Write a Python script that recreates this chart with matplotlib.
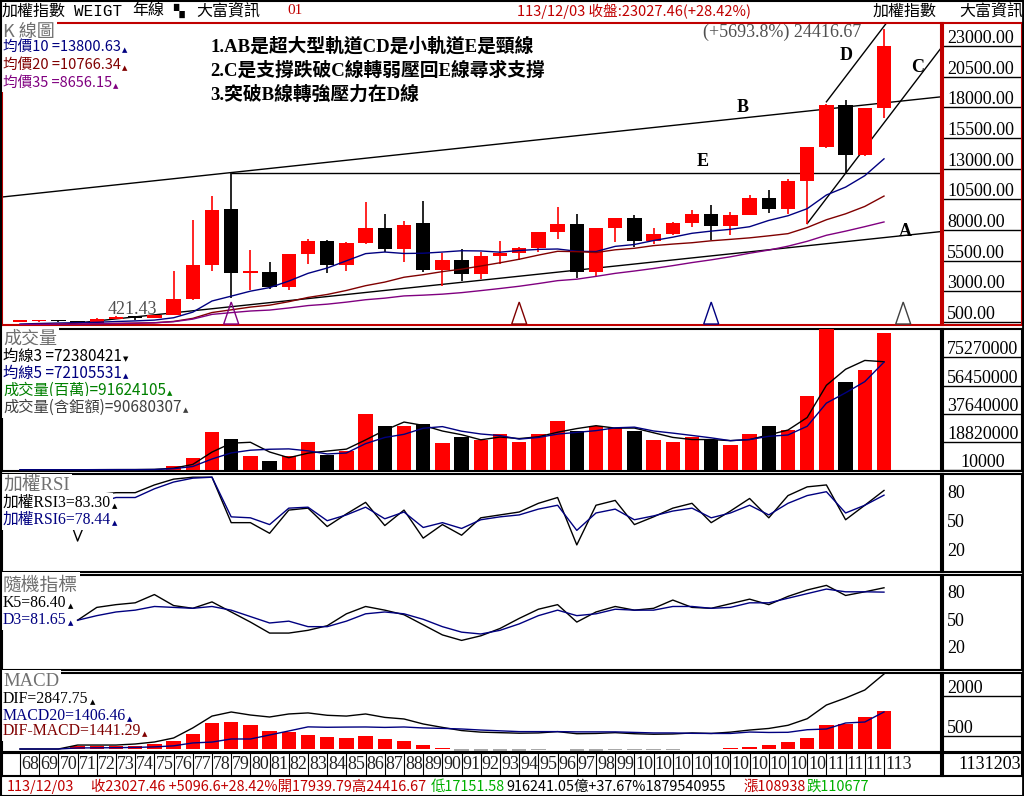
import matplotlib.pyplot as plt
import numpy as np
import pandas as pd
from matplotlib.patches import Polygon

plt.rcParams['font.family'] = ['Noto Sans CJK TC', 'DejaVu Sans']
SERIF = ['Liberation Serif', 'Noto Sans CJK TC']

W, H = 1024, 796
nan = np.nan

# 民國年 68 ~ 113, 年K
years = np.arange(68, 114)
opens = [480, 550, 568, 551, 443, 761, 839, 835, 1039, 2339, 5119, 9700, 4530, 4600, 3377, 6070,
         7124, 5173, 6933, 8187, 6418, 8550, 4739, 5551, 4452, 5890, 6139, 6548, 7823, 8506, 4591,
         8188, 8972, 7072, 7699, 8611, 9307, 8338, 9253, 10642, 9727, 11997, 14732, 18218, 14137,
         17939.79]
highs = [580, 590, 650, 560, 800, 968, 850, 1040, 4673, 8813, 10773, 12682, 6365, 5391, 6070, 7228,
         7180, 6982, 10256, 9337, 8710, 10393, 6104, 6484, 6182, 7135, 6575, 7823, 9859, 9309, 8188,
         8990, 9220, 8170, 8623, 9593, 10014, 9430, 10882, 11270, 12125, 14760, 18291, 18619, 17945,
         24416.67]
lows = [470, 500, 510, 421.43, 440, 760, 636, 835, 1039, 2298, 4645, 2485, 3142, 3200, 3098, 5194,
        4474, 4672, 6820, 6219, 5422, 4555, 3411, 3850, 4044, 5255, 5565, 6232, 7306, 4089, 4164,
        7032, 6609, 6857, 7617, 8230, 7203, 7627, 9221, 9400, 9319, 8523, 14720, 12629, 14070,
        17151.58]
closes = [550, 568, 551, 443, 761, 839, 835, 1039, 2339, 5119, 9624, 4530, 4600, 3377, 6070, 7124,
          5173, 6933, 8187, 6418, 8448, 4739, 5551, 4452, 5890, 6139, 6548, 7823, 8506, 4591, 8188,
          8972, 7072, 7699, 8611, 9307, 8338, 9253, 10642, 9727, 11997, 14732, 18218, 14137, 17930,
          23027.46]
# 民國56~67 年收盤, 只用來讓均價線暖身
warmup_close = [118, 111, 109, 125, 136, 228, 411, 190, 350, 372, 426, 541]

# 成交量 (百萬)
volume = [170000, 160000, 210000, 140000, 360000, 320000, 200000, 680000, 2670000, 7870000,
          25410000, 20500000, 9680000, 5920000, 9060000, 18810000, 10150000, 12910000, 37240000,
          29620000, 29290000, 30530000, 18350000, 21870000, 20330000, 23880000, 18820000, 23900000,
          33040000, 26120000, 29680000, 28220000, 26200000, 20240000, 18940000, 21900000, 20190000,
          16770000, 24090000, 29610000, 26460000, 49200000, 94200000, 58600000, 66900000, 91624105]

rsi3 = [50, 60, 85, 31, 79, 81, 81, 89, 95, 97, 97, 50, 50, 39, 63, 65, 46, 59, 71, 47, 63, 34, 48,
        37, 55, 58, 61, 70, 76, 27, 68, 73, 48, 56, 65, 70, 50, 62, 75, 55, 78, 87, 89, 53, 68, 83.30]
rsi6 = [50, 55, 70, 45, 70, 76, 76, 85, 92, 96, 97, 56, 55, 48, 65, 66, 52, 58, 66, 54, 61, 45, 50,
        44, 53, 56, 58, 64, 68, 42, 60, 64, 53, 57, 62, 65, 55, 60, 68, 58, 70, 78, 82, 60, 68, 78.44]
k5 = [nan, nan, nan, 51, 65, 68, 70, 79, 67, 64, 71, 60, 49, 37, 37, 40, 45, 58, 66, 62, 57, 46, 35,
      29, 34, 42, 53, 63, 68, 49, 60, 66, 62, 64, 73, 65, 64, 69, 74, 68, 77, 84, 89, 78, 82, 86.40]
d3 = [nan, nan, nan, 51, 56, 60, 62, 66, 65, 64, 66, 62, 55, 48, 50, 44, 44, 50, 58, 60, 58, 52, 44,
      38, 36, 40, 47, 56, 62, 56, 58, 63, 62, 62, 66, 66, 64, 65, 70, 70, 75, 80, 85, 82, 82, 81.65]
dif = [0, 0, 0, 150, 150, 150, 190, 266, 418, 800, 1250, 1405, 1290, 1215, 1330, 1370, 1280, 1250,
       1330, 1200, 1140, 950, 820, 700, 640, 620, 600, 610, 660, 580, 590, 620, 580, 560, 570, 610,
       590, 640, 720, 780, 900, 1150, 1670, 1936, 2240, 2847.75]
macd20 = [0, 0, 0, 40, 45, 50, 60, 80, 120, 230, 263, 380, 380, 532, 685, 840, 825, 832, 836, 820,
          836, 798, 782, 760, 720, 690, 660, 660, 660, 650, 650, 650, 630, 610, 610, 595, 590, 590,
          644, 628, 634, 732, 759, 987, 1025, 1406.46]

cycle_years = [79, 94, 104, 114]
cycle_colors = ['#800080', '#800000', '#000080', '#404040']

# 手畫趨勢線 (年, 指數)
line_A = [(71, 421.43), (113, 7380)]
line_B = [(79, 12682), (113, 18360)]
line_E = (79, 12682)
line_C = [(109, 8523), (111, 12629)]
line_D = (110, 18450)

k_ticks = [23000, 20500, 18000, 15500, 13000, 10500, 8000, 5500, 3000, 500]
vol_ticks = [75270000, 56450000, 37640000, 18820000, 10000]
osc_ticks = [80, 50, 20]
macd_ticks = [2000, 500]

fig = plt.figure(figsize=(W / 100, H / 100), dpi=100)
renderer = fig.canvas.get_renderer()


def px_axes(x0, y0, x1, y1, edge='black'):
    ax = fig.add_axes([x0 / W, 1 - y1 / H, (x1 - x0) / W, (y1 - y0) / H])
    ax.set_xticks([])
    ax.set_yticks([])
    for s in ax.spines.values():
        s.set_color(edge)
        s.set_linewidth(1.5)
    return ax


def lim(zero_px, scale, y0, y1, base=0.0):
    return (base + (zero_px - y1) / scale, base + (zero_px - y0) / scale)


def ftext(ax, x, y, s, color='black', size=10, family=None, weight='normal', mark=None, bg=True):
    kw = {'family': family} if family else {}
    t = ax.text(x / W, 1 - y / H, s, transform=fig.transFigure, color=color, fontsize=size,
                va='center', ha='left', zorder=20, fontweight=weight,
                bbox=dict(fc='white', ec='none', pad=1.5) if bg else None, **kw)
    if mark:
        bb = t.get_window_extent(renderer)
        ax.text((bb.x1 + 1) / W, 1 - (y + 3) / H, mark, transform=fig.transFigure, color=color,
                fontsize=5, va='center', ha='left', zorder=21, family='DejaVu Sans')
    return t


XL = (68 + (2 - 20) / 19.2, 68 + (941 - 20) / 19.2)
o, h, l, c = map(np.asarray, (opens, highs, lows, closes))
up = c >= o
cols = np.where(up, '#ff0000', '#000000')

# ---------------- K 線圖 ----------------
RED = '#c00000'
ax_k = px_axes(2, 23, 941, 325, RED)
ax_k.set_xlim(XL)
ax_k.set_ylim(lim(322, 0.012267, 23, 325, 500))

ax_k.vlines(years, l, h, colors=cols, lw=1.2, zorder=3)
body = np.maximum(np.abs(c - o), 150)
ax_k.bar(years, body, bottom=np.minimum(o, c), width=0.76, color=cols, zorder=4)

allc = pd.Series(warmup_close + closes)
for n, colr in [(10, '#000080'), (20, '#800000'), (35, '#800080')]:
    ma = allc.rolling(n, min_periods=1).mean().values[len(warmup_close):]
    ax_k.plot(years, ma, color=colr, lw=1, zorder=5)

ax_k.axline(line_A[0], line_A[1], color='black', lw=1, zorder=2)
ax_k.axline(line_B[0], line_B[1], color='black', lw=1, zorder=2)
ax_k.hlines(line_E[1], line_E[0], XL[1], color='black', lw=1, zorder=2)
slope = (line_C[1][1] - line_C[0][1]) / (line_C[1][0] - line_C[0][0])
ax_k.plot([line_C[0][0], XL[1]], [line_C[0][1], line_C[0][1] + slope * (XL[1] - line_C[0][0])],
          color='black', lw=1, zorder=2)
ax_k.plot([line_D[0], XL[1]], [line_D[1], line_D[1] + slope * (XL[1] - line_D[0])],
          color='black', lw=1, zorder=2)

ylo = ax_k.get_ylim()[0]
for yr, colr in zip(cycle_years, cycle_colors):
    tri = Polygon([(yr - 0.39, ylo + 80), (yr, ylo + 1870), (yr + 0.39, ylo + 80)], closed=True,
                  fill=False, ec=colr, lw=1, zorder=6)
    ax_k.add_patch(tri)

ftext(ax_k, 3, 32, 'K 線圖', '#707070', 13)
ftext(ax_k, 3, 47, '均價10 =13800.63', '#000080', 10.5, mark='▲')
ftext(ax_k, 3, 65, '均價20 =10766.34', '#800000', 10.5, mark='▲')
ftext(ax_k, 3, 83, '均價35 =8656.15', '#800080', 10.5, mark='▲')
ftext(ax_k, 108, 309, '421.43', '#505050', 13, SERIF, bg=False)
ftext(ax_k, 703, 32, '(+5693.8%) 24416.67', '#505050', 13, SERIF, bg=False)
notes = ['1.AB是超大型軌道CD是小軌道E是頸線', '2.C是支撐跌破C線轉弱壓回E線尋求支撐', '3.突破B線轉強壓力在D線']
for i, s in enumerate(notes):
    ftext(ax_k, 210, 46 + i * 24.5, s, 'black', 13.5, SERIF, weight='bold', bg=False)
for s, x, y in [('A', 899, 231), ('B', 737, 107), ('C', 911, 68), ('D', 840, 55), ('E', 697, 162)]:
    ftext(ax_k, x, y, s, 'black', 13, ['Liberation Serif'], weight='bold', bg=False)

ax_kr = px_axes(943, 23, 1022, 325, RED)
ax_kr.set_xlim(0, 1)
ax_kr.set_ylim(ax_k.get_ylim())
for v in k_ticks:
    ax_kr.axhline(v, color='black', lw=1)
    ax_kr.annotate(f'{v:.2f}', (0.05, v), xytext=(0, 3), textcoords='offset pixels', va='baseline',
                   fontsize=13, family=SERIF)

# ---------------- 成交量 ----------------
ax_v = px_axes(2, 329, 941, 471)
ax_v.set_xlim(XL)
ax_v.set_ylim(lim(470, 1.496e-6, 329, 471))
vol = pd.Series(volume, dtype=float)
ax_v.bar(years, vol, width=0.76, color=cols, zorder=3)
ax_v.plot(years, vol.rolling(3, min_periods=1).mean(), color='black', lw=1, zorder=4)
ax_v.plot(years, vol.rolling(5, min_periods=1).mean(), color='#000080', lw=1, zorder=4)
ftext(ax_v, 3, 338, '成交量', '#707070', 13)
ftext(ax_v, 3, 356, '均線3 =72380421', 'black', 11, mark='▼')
ftext(ax_v, 3, 373, '均線5 =72105531', '#000080', 11, mark='▲')
ftext(ax_v, 3, 390, '成交量(百萬)=91624105', '#008000', 11, mark='▲')
ftext(ax_v, 3, 407, '成交量(含鉅額)=90680307', '#404040', 11, mark='▲')

ax_vr = px_axes(943, 329, 1022, 471)
ax_vr.set_xlim(0, 1)
ax_vr.set_ylim(ax_v.get_ylim())
for v in vol_ticks:
    ax_vr.axhline(v, color='black', lw=1)
    x = 0.22 if v < 1e6 else 0.05
    ax_vr.annotate(f'{v}', (x, v), xytext=(0, 3), textcoords='offset pixels', va='baseline',
                   fontsize=13, family=SERIF)

# ---------------- RSI ----------------
ax_r = px_axes(2, 474, 941, 572)
ax_r.set_xlim(XL)
ax_r.set_ylim(lim(571, 0.967, 474, 572))
ax_r.plot(years, rsi3, color='black', lw=1)
ax_r.plot(years, rsi6, color='#000080', lw=1)
ftext(ax_r, 3, 485, '加權RSI', '#707070', 13.5, SERIF)
ftext(ax_r, 3, 503, '加權RSI3=83.30', 'black', 11.3, SERIF, mark='▲')
ftext(ax_r, 3, 520, '加權RSI6=78.44', '#000080', 11.3, SERIF, mark='▲')

# ---------------- KD ----------------
ax_d = px_axes(2, 575, 941, 670)
ax_d.set_xlim(XL)
ax_d.set_ylim(lim(667, 0.917, 575, 670))
ax_d.plot(years, k5, color='black', lw=1)
ax_d.plot(years, d3, color='#000080', lw=1)
ftext(ax_d, 3, 585, '隨機指標', '#707070', 13.5)
ftext(ax_d, 3, 603, 'K5=86.40', 'black', 11.3, SERIF, mark='▲')
ftext(ax_d, 3, 620, 'D3=81.65', '#000080', 11.3, SERIF, mark='▲')

for a, box in [(ax_r, (943, 474, 1022, 572)), (ax_d, (943, 575, 1022, 670))]:
    ar = px_axes(*box)
    ar.set_xlim(0, 1)
    ar.set_ylim(a.get_ylim())
    for v in osc_ticks:
        ar.text(0.05, v, str(v), va='center', fontsize=13, family=SERIF)

# ---------------- MACD ----------------
ax_m = px_axes(2, 673, 941, 752)
ax_m.set_xlim(XL)
ax_m.set_ylim(lim(749, 0.02634, 673, 752))
hist = np.asarray(dif) - np.asarray(macd20)
ax_m.bar(years, hist, width=0.76, color=np.where(hist >= 0, '#ff0000', '#a8a8a8'), zorder=3)
ax_m.plot(years, dif, color='black', lw=1, zorder=4)
ax_m.plot(years, macd20, color='#000080', lw=1, zorder=4)
ftext(ax_m, 3, 681, 'MACD', '#707070', 13.5, SERIF)
ftext(ax_m, 3, 699, 'DIF=2847.75', 'black', 11.3, SERIF, mark='▲')
ftext(ax_m, 3, 716, 'MACD20=1406.46', '#000080', 11.3, SERIF, mark='▲')
ftext(ax_m, 3, 731, 'DIF-MACD=1441.29', '#800000', 11.3, SERIF, mark='▲')

ax_mr = px_axes(943, 673, 1022, 752)
ax_mr.set_xlim(0, 1)
ax_mr.set_ylim(ax_m.get_ylim())
for v in macd_ticks:
    ax_mr.axhline(v, color='black', lw=1)
    ax_mr.annotate(str(v), (0.05, v), xytext=(0, 3), textcoords='offset pixels', va='baseline',
                   fontsize=13, family=SERIF)

# ---------------- 年份列 ----------------
ax_x = px_axes(2, 753, 941, 776)
ax_x.set_xlim(XL)
ax_x.set_ylim(0, 1)
ax_x.vlines(years, 0, 1, color='black', lw=0.8)
for yr in years:
    lab = str(yr) if (yr < 100 or yr == years[-1]) else str(yr)[:2]
    ax_x.annotate(lab, (yr, 0.5), xytext=(1, 0), textcoords='offset pixels', va='center',
                  fontsize=13, family=SERIF, color='#202020')
ax_xr = px_axes(943, 753, 1022, 776)
ax_xr.text(0.2, 0.5, '1131203', va='center', fontsize=13, family=SERIF, transform=ax_xr.transAxes)

# ---------------- 表頭 / 狀態列 ----------------
def htext(x, y, s, color='black', size=11.5, family=None):
    kw = {'family': family} if family else {}
    fig.text(x / W, 1 - y / H, s, color=color, fontsize=size, va='center', ha='left', **kw)


htext(2, 11, '加權指數')
htext(74, 11, 'WEIGT', family=['Liberation Mono'])
htext(132, 11, '年線')
htext(173, 11, '▚', size=10, family=['DejaVu Sans'])
htext(196, 11, '大富資訊')
htext(287, 11, '01', '#c00000', 11, SERIF)
htext(517, 11, '113/12/03 收盤:23027.46(+28.42%)', '#c00000', 10.5)
htext(873, 11, '加權指數')
htext(959, 11, '大富資訊')

htext(7, 787, '113/12/03', '#c00000', 10.4)
htext(91, 787, '收23027.46 +5096.6+28.42%開17939.79高24416.67', '#c00000', 10.4)
htext(431, 787, '低17151.58', '#00b000', 10.4)
htext(506, 787, '916241.05億+37.67%1879540955', 'black', 10.4)
htext(743, 787, '漲108938', '#c00000', 10.4)
htext(806, 787, '跌110677', '#00b000', 10.4)

fig.add_artist(plt.Line2D([0, 1], [1 - 0.5 / H, 1 - 0.5 / H], color='black', lw=1.5))
fig.add_artist(plt.Line2D([1 - 1 / W, 1 - 1 / W], [0, 1], color='black', lw=2))
fig.add_artist(plt.Line2D([0.5 / W, 0.5 / W], [0, 1], color='black', lw=1.5))
fig.add_artist(plt.Line2D([0, 1], [0.5 / H, 0.5 / H], color='black', lw=1.5))

fig.savefig('out.png', dpi=100)
